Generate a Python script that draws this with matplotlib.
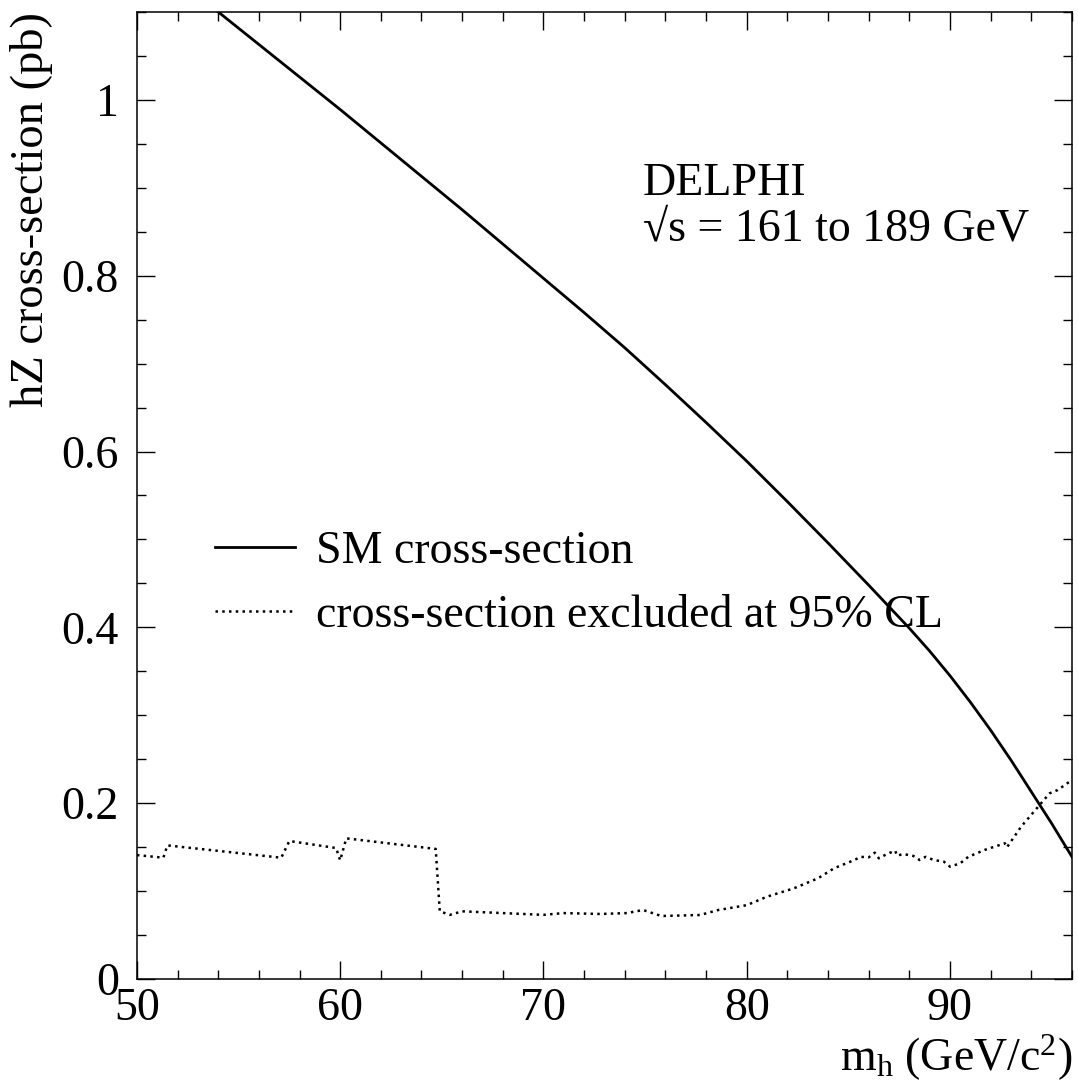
import matplotlib
matplotlib.use("Agg")
import matplotlib.pyplot as plt
from matplotlib.ticker import MultipleLocator

plt.rcParams['font.family'] = ['Liberation Serif', 'DejaVu Serif']
plt.rcParams['mathtext.fontset'] = 'custom'
plt.rcParams['mathtext.rm'] = 'Liberation Serif'
plt.rcParams['mathtext.it'] = 'Liberation Serif:italic'

# SM hZ cross-section (pb)
sm_mass = [54.0, 56.0, 58.0, 60.0, 62.0, 64.0, 66.0, 68.0, 70.0, 72.0, 74.0,
           76.0, 78.0, 80.0, 82.0, 84.0, 86.0, 88.0, 89.0, 90.0, 91.0, 92.0,
           93.0, 94.0, 95.0, 96.0]
sm_xsec = [1.100, 1.063, 1.026, 0.989, 0.951, 0.913, 0.875, 0.836, 0.797, 0.758, 0.718,
           0.676, 0.633, 0.589, 0.543, 0.496, 0.448, 0.399, 0.373, 0.345, 0.315, 0.283,
           0.249, 0.213, 0.177, 0.139]

# cross-section excluded at 95% CL
lim_mass = [50.0, 51.3, 51.5, 57.1, 57.5, 59.8, 60.0, 60.3, 64.7, 64.9, 65.4, 66.0,
            68.0, 70.0, 71.0, 72.8, 74.1, 74.9, 75.8, 77.7, 78.6, 80.0, 81.0, 82.3,
            83.5, 84.3, 85.3, 85.6, 86.0, 86.3, 86.5, 86.9, 87.3, 87.4, 87.7, 88.2,
            88.5, 88.8, 89.2, 89.7, 90.0, 90.5, 90.9, 91.7, 92.7, 92.8, 93.5, 94.2,
            94.9, 95.3, 96.0]
lim_xsec = [0.141, 0.138, 0.152, 0.138, 0.157, 0.149, 0.135, 0.160, 0.148, 0.077, 0.073, 0.077,
            0.075, 0.073, 0.075, 0.074, 0.075, 0.0785, 0.0717, 0.0728, 0.0785, 0.084, 0.0937, 0.103,
            0.1145, 0.126, 0.1354, 0.139, 0.1384, 0.1437, 0.1373, 0.1422, 0.146, 0.1403, 0.1422, 0.140,
            0.1354, 0.139, 0.1354, 0.1335, 0.1278, 0.1316, 0.139, 0.1468, 0.1544, 0.1498, 0.1733, 0.1923,
            0.2112, 0.215, 0.2264]

legend_labels = ["SM cross-section", "cross-section excluded at 95% CL"]

fig = plt.figure(figsize=(10.78, 10.83), dpi=100)
ax = fig.add_axes([0.127, 0.096, 0.8674, 0.893])

l1, = ax.plot(sm_mass, sm_xsec, color='black', lw=2.0, solid_joinstyle='round')
l2, = ax.plot(lim_mass, lim_xsec, color='black', lw=1.8, linestyle=(0, (1, 1.7)))

ax.set_xlim(50, 96)
ax.set_ylim(0, 1.1)
ax.xaxis.set_major_locator(MultipleLocator(10))
ax.xaxis.set_minor_locator(MultipleLocator(2))
ax.yaxis.set_minor_locator(MultipleLocator(0.05))
ax.set_yticks([0, 0.2, 0.4, 0.6, 0.8, 1.0])
ax.set_yticklabels(["0", "0.2", "0.4", "0.6", "0.8", "1"])

ax.tick_params(which='both', direction='in', top=True, right=True, width=1.0, color='black')
ax.tick_params(which='major', length=13)
ax.tick_params(which='minor', length=6.5)
ax.tick_params(axis='y', which='major', pad=13, labelsize=33)
ax.tick_params(axis='x', which='major', pad=6, labelsize=33)
for sp in ax.spines.values():
    sp.set_linewidth(1.1)

ax.set_ylabel("hZ cross-section (pb)", fontsize=33.5, loc='top', labelpad=6)
ax.set_xlabel(r"m$_{\mathrm{h}}$ (GeV/c$^{2}$)", fontsize=33, loc='right', labelpad=2)

ax.text(0.541, 0.811, "DELPHI", transform=ax.transAxes, fontsize=33, ha='left', va='baseline')
ax.text(0.541, 0.764, "\u221as = 161 to 189 GeV", transform=ax.transAxes, fontsize=33,
        ha='left', va='baseline')

ax.legend([l1, l2], legend_labels, loc='upper left', bbox_to_anchor=(0.083, 0.464),
          frameon=False, fontsize=33, handlelength=1.75, handletextpad=0.46,
          labelspacing=0.465, borderaxespad=0, borderpad=0)

fig.savefig("out.png", dpi=100)
